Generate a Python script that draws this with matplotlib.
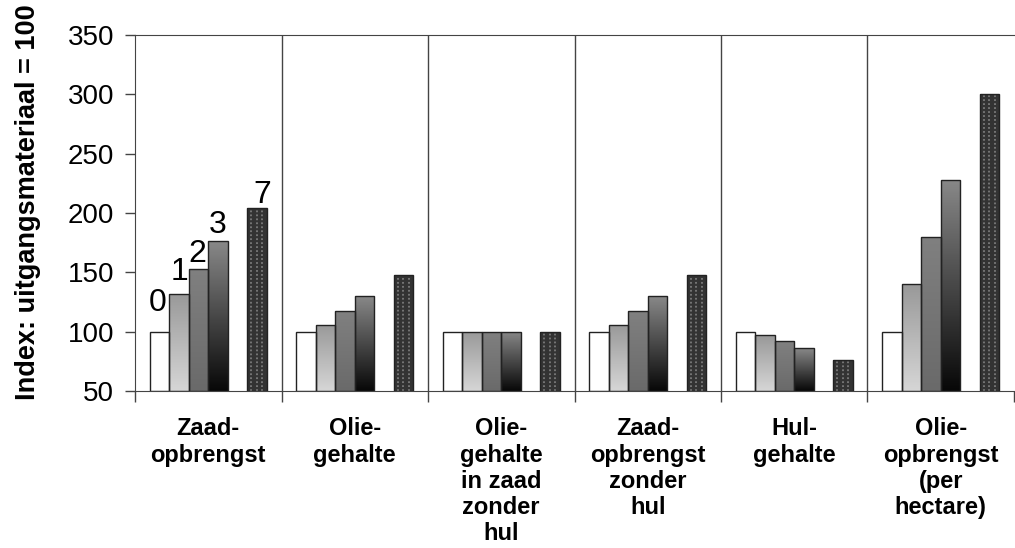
import numpy as np
import matplotlib.pyplot as plt
from matplotlib.colors import LinearSegmentedColormap

categories = ["Zaad-\nopbrengst", "Olie-\ngehalte", "Olie-\ngehalte\nin zaad\nzonder\nhul",
              "Zaad-\nopbrengst\nzonder\nhul", "Hul-\ngehalte", "Olie-\nopbrengst\n(per\nhectare)"]
series_names = ["0", "1", "2", "3", "7"]
values = [
    [100, 132, 153, 176, 204],
    [100, 106, 117, 130, 148],
    [100, 100, 100, 100, 100],
    [100, 106, 117, 130, 148],
    [100, 97, 92, 86, 76],
    [100, 140, 180, 228, 300],
]

# gradient (top, bottom) per series; None = pattern bar
fills = [("#ffffff", "#ffffff"), ("#999999", "#d6d6d6"), ("#808080", "#6a6a6a"),
         ("#888888", "#080808"), None]
slots = [0, 1, 2, 3, 5]
label_gap = [17.7, 11.8, 6, 7.4, 4.7]
label_dx = [-0.012, 0, -0.008, 0, 0.035]

plt.rcParams['font.family'] = ['Liberation Sans', 'DejaVu Sans']
fig = plt.figure(figsize=(10.15, 5.48), dpi=100)
ax = fig.add_axes([135/1015, 1 - 391/548, 879/1015, 356/548])

w = 0.1327
left0 = -0.5 + 15/147
line_col = "#444444"

for g, vals in enumerate(values):
    for s, v in enumerate(vals):
        x0 = g + left0 + slots[s]*w
        if fills[s] is None:
            ax.bar(x0, v - 50, bottom=50, width=w, align='edge', color="#333333",
                   edgecolor="none", zorder=2)
            for f in (0.22, 0.5, 0.78):
                ax.vlines(x0 + f*w, 50, v, colors="#7a7a7a", linewidth=1.3,
                          linestyles=(0, (1, 1.2)), zorder=3)
            ax.bar(x0, v - 50, bottom=50, width=w, align='edge', facecolor="none",
                   edgecolor="#222222", linewidth=1.0, zorder=4)
        else:
            top, bot = fills[s]
            cmap = LinearSegmentedColormap.from_list("g", [bot, top])
            b = ax.bar(x0, v - 50, bottom=50, width=w, align='edge', facecolor="none",
                       edgecolor="#222222", linewidth=1.0, zorder=4)
            im = ax.imshow(np.linspace(0, 1, 100).reshape(-1, 1), cmap=cmap, origin='lower',
                           extent=[x0, x0 + w, 50, v], aspect='auto', zorder=2,
                           interpolation='bilinear')
            im.set_clip_path(b[0])
        if g == 0:
            ax.text(x0 + w/2 + label_dx[s], v + label_gap[s], series_names[s],
                    ha='center', va='baseline', fontsize=23)

ax.set_xlim(-0.5, 5.5)
ax.set_ylim(50, 350)
ax.set_yticks(range(50, 351, 50))
ax.tick_params(axis='y', labelsize=20, length=7, width=1, color=line_col, pad=8)

ax.set_xticks(range(len(categories)))
ax.set_xticklabels(categories, fontsize=17, fontweight='bold', linespacing=1.18, va='top')
ax.tick_params(axis='x', which='major', length=0, pad=19)
ax.set_xticks(np.arange(-0.5, 5.6, 1), minor=True)
ax.tick_params(axis='x', which='minor', length=8, width=1, color=line_col)
for xb in np.arange(0.5, 5.5, 1):
    ax.axvline(xb, color=line_col, linewidth=1, zorder=1)

for sp in ['left', 'bottom', 'top']:
    ax.spines[sp].set_color(line_col)
ax.spines['right'].set_visible(False)

ax.set_ylabel("Index: uitgangsmateriaal = 100", fontsize=19.5, fontweight='bold')
ax.yaxis.set_label_coords(-107/879, 0.53)
ax.yaxis.label.set_va('center')

fig.savefig("out.png", dpi=100)
